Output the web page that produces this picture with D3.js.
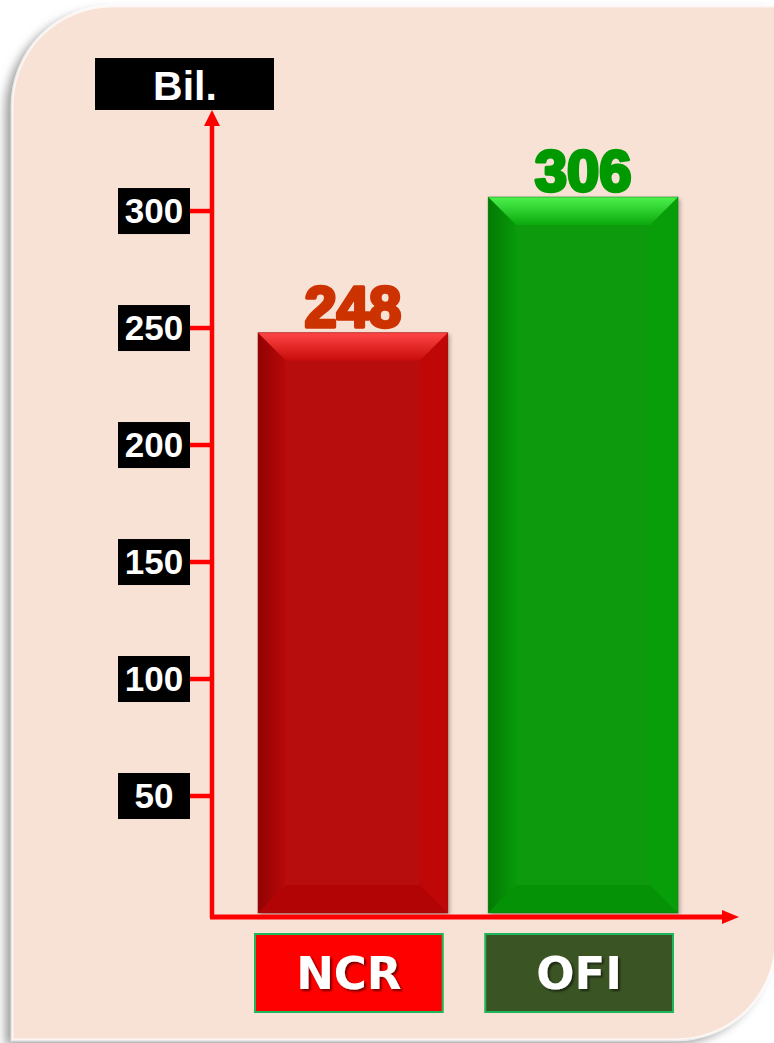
<!DOCTYPE html>
<html>
<head>
<meta charset="utf-8">
<script src="https://cdn.jsdelivr.net/npm/d3@7"></script>
<style>
  html, body { margin: 0; padding: 0; background: #fff; }
  svg { display: block; }
</style>
</head>
<body>
<div id="chart"></div>
<script>
const categories = ["NCR", "OFI"];
const values = [248, 306];
const yTicks = [50, 100, 150, 200, 250, 300];
const unitLabel = "Bil.";

const W = 774, H = 1043;
const base = 915;

const svg = d3.select("#chart").append("svg")
  .attr("width", W).attr("height", H);

const defs = svg.append("defs");

const sh = defs.append("filter").attr("id", "panelShadow")
  .attr("x", -0.1).attr("y", -0.1).attr("width", 1.2).attr("height", 1.2);
sh.append("feDropShadow").attr("dx", -7).attr("dy", 5)
  .attr("stdDeviation", 5).attr("flood-color", "#777").attr("flood-opacity", 0.7);

const tsh = defs.append("filter").attr("id", "textShadow");
tsh.append("feDropShadow").attr("dx", 2).attr("dy", 2)
  .attr("stdDeviation", 1).attr("flood-color", "#000").attr("flood-opacity", 0.55);

const bsh = defs.append("filter").attr("id", "barShadow")
  .attr("x", -0.1).attr("y", -0.1).attr("width", 1.2).attr("height", 1.2);
bsh.append("feDropShadow").attr("dx", 2).attr("dy", 2)
  .attr("stdDeviation", 2).attr("flood-color", "#000").attr("flood-opacity", 0.3);

// background panel: rounded top-left and bottom-right corners
const px = 12, py = 6, pr = 100, pw = 764, ph = 1034;
const panelPath = `M${px},${py + pr} A${pr},${pr} 0 0 1 ${px + pr},${py}
  L${px + pw},${py} L${px + pw},${py + ph - pr}
  A${pr},${pr} 0 0 1 ${px + pw - pr},${py + ph} L${px},${py + ph} Z`;
svg.append("path").attr("d", panelPath)
  .attr("fill", "#f8e2d6").attr("filter", "url(#panelShadow)");
svg.append("path").attr("d", panelPath)
  .attr("fill", "none").attr("stroke", "#fff").attr("stroke-opacity", 0.7)
  .attr("stroke-width", 3);

const x = d3.scaleBand().domain(categories)
  .range([258, 678]).paddingInner(0.176).paddingOuter(0);
const y = d3.scaleLinear().domain([0, d3.max(values)]).range([913, 197]);

const palettes = {
  NCR: { main: "#b80808", topA: "#ff4646", topB: "#c80a0a", left: "#a30303", right: "#bf0707", bottom: "#b20404", label: "#cc3300", box: "#ff0000" },
  OFI: { main: "#079a09", topA: "#4df24d", topB: "#0aa80c", left: "#058805", right: "#089e0a", bottom: "#069206", label: "#009900", box: "#3b5424" }
};

categories.forEach(c => {
  const p = palettes[c];
  const gT = defs.append("linearGradient").attr("id", "top" + c)
    .attr("x1", 0).attr("y1", 0).attr("x2", 0).attr("y2", 1);
  gT.append("stop").attr("offset", 0).attr("stop-color", p.topA);
  gT.append("stop").attr("offset", 1).attr("stop-color", p.topB);
  const gL = defs.append("linearGradient").attr("id", "left" + c)
    .attr("x1", 0).attr("y1", 0).attr("x2", 1).attr("y2", 0);
  gL.append("stop").attr("offset", 0).attr("stop-color", d3.color(p.left).darker(0.3));
  gL.append("stop").attr("offset", 1).attr("stop-color", p.main);
});

// bars with bevelled faces
const bev = 28;
const bars = svg.selectAll("g.bar")
  .data(categories.map((c, i) => ({ cat: c, value: values[i] })))
  .enter().append("g").attr("class", "bar");

bars.each(function (d) {
  const g = d3.select(this);
  const p = palettes[d.cat];
  const x0 = x(d.cat), x1 = x0 + x.bandwidth();
  const y0 = y(d.value), y1 = y(0);
  g.append("rect").attr("x", x0).attr("y", y0)
    .attr("width", x1 - x0).attr("height", y1 - y0)
    .attr("fill", p.main).attr("filter", "url(#barShadow)");
  g.append("path")
    .attr("d", `M${x0},${y0} L${x0 + bev},${y0 + bev} L${x0 + bev},${y1 - bev} L${x0},${y1} Z`)
    .attr("fill", `url(#left${d.cat})`);
  g.append("path")
    .attr("d", `M${x1},${y0} L${x1 - bev},${y0 + bev} L${x1 - bev},${y1 - bev} L${x1},${y1} Z`)
    .attr("fill", p.right);
  g.append("path")
    .attr("d", `M${x0},${y1} L${x0 + bev},${y1 - bev} L${x1 - bev},${y1 - bev} L${x1},${y1} Z`)
    .attr("fill", p.bottom);
  g.append("path")
    .attr("d", `M${x0},${y0} L${x1},${y0} L${x1 - bev},${y0 + bev} L${x0 + bev},${y0 + bev} Z`)
    .attr("fill", `url(#top${d.cat})`);
  g.append("rect").attr("x", x0).attr("y", y0)
    .attr("width", x1 - x0).attr("height", y1 - y0)
    .attr("fill", "none").attr("stroke", d3.color(p.main).darker(0.6))
    .attr("stroke-opacity", 0.5).attr("stroke-width", 1);

  g.append("text")
    .attr("x", (x0 + x1) / 2).attr("y", y0 - 6)
    .attr("text-anchor", "middle")
    .attr("font-family", "Liberation Sans, Arial, sans-serif")
    .attr("font-weight", "bold").attr("font-size", 58)
    .attr("fill", p.label).attr("stroke", p.label).attr("stroke-width", 3.5)
    .attr("stroke-linejoin", "round")
    .text(d.value);
});

// axes
const axisX = 212;
const red = "#ff0000";
svg.append("line").attr("x1", axisX).attr("x2", axisX)
  .attr("y1", base + 2.5).attr("y2", 124)
  .attr("stroke", red).attr("stroke-width", 4.5);
svg.append("path")
  .attr("d", `M${axisX - 8},126 L${axisX},110 L${axisX + 8},126 Z`)
  .attr("fill", red);
svg.append("line").attr("x1", axisX - 2).attr("x2", 726)
  .attr("y1", base + 2).attr("y2", base + 2)
  .attr("stroke", red).attr("stroke-width", 5);
svg.append("path")
  .attr("d", `M722,${base + 2 - 7} L739,${base + 2} L722,${base + 2 + 7} Z`)
  .attr("fill", red);

// y ticks with black boxes
const boxW = 72, boxH = 46, boxR = 190;
const ticks = svg.selectAll("g.tick").data(yTicks).enter()
  .append("g").attr("class", "tick")
  .attr("transform", d => `translate(0,${y(d)})`);
ticks.append("line").attr("x1", boxR).attr("x2", axisX)
  .attr("stroke", red).attr("stroke-width", 4.5);
ticks.append("rect").attr("x", boxR - boxW).attr("y", -boxH / 2)
  .attr("width", boxW).attr("height", boxH).attr("fill", "#000");
ticks.append("text").attr("x", boxR - boxW / 2).attr("y", 12)
  .attr("text-anchor", "middle")
  .attr("font-family", "Liberation Sans, Arial, sans-serif")
  .attr("font-weight", "bold").attr("font-size", 35)
  .attr("fill", "#fff").text(d => d);

// unit label
svg.append("rect").attr("x", 95).attr("y", 58)
  .attr("width", 179).attr("height", 52).attr("fill", "#000");
svg.append("text").attr("x", 185).attr("y", 100)
  .attr("text-anchor", "middle")
  .attr("font-family", "Liberation Sans, Arial, sans-serif")
  .attr("font-weight", "bold").attr("font-size", 41)
  .attr("fill", "#fff").text(unitLabel);

// category label boxes
const cats = svg.selectAll("g.cat").data(categories).enter()
  .append("g").attr("class", "cat");
cats.append("rect")
  .attr("x", d => x(d) - 3).attr("y", 934)
  .attr("width", x.bandwidth() - 2).attr("height", 78)
  .attr("fill", d => palettes[d].box)
  .attr("stroke", "#1fb55a").attr("stroke-width", 2);
cats.append("text")
  .attr("x", d => x(d) - 3 + (x.bandwidth() - 2) / 2).attr("y", 989)
  .attr("text-anchor", "middle")
  .attr("font-family", "DejaVu Sans, Verdana, sans-serif")
  .attr("font-weight", "bold").attr("font-size", 45)
  .attr("fill", "#fff").attr("filter", "url(#textShadow)")
  .text(d => d);
</script>
</body>
</html>
